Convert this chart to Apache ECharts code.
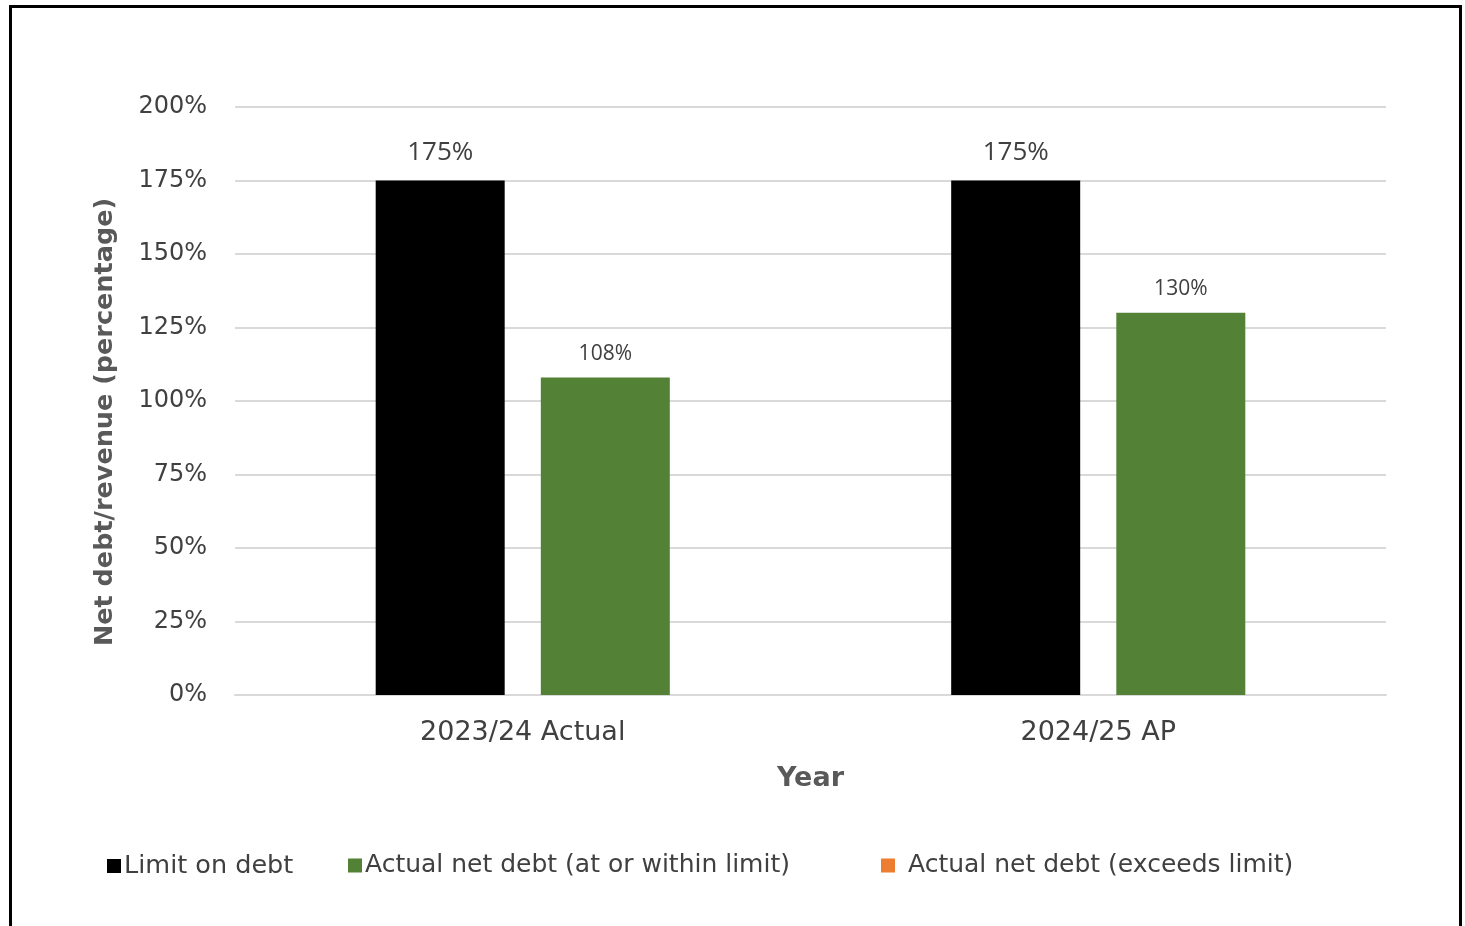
<!DOCTYPE html>
<html>
<head>
<meta charset="utf-8">
<script src="https://cdn.jsdelivr.net/npm/echarts@6/dist/echarts.min.js"></script>
<style>
html,body{margin:0;padding:0;background:#fff;}
#chart{width:1465px;height:926px;}
</style>
</head>
<body>
<div id="chart"></div>
<script>
const categories = ['2023/24 Actual', '2024/25 AP'];
const limitOnDebt = [175, 175];
const actualWithin = [108, 130];
const actualExceeds = [null, null];
const yTicks = [0, 25, 50, 75, 100, 125, 150, 175, 200];

const axisFont = '"DejaVu Sans", sans-serif';
const labelFont = '"Open Sans", Lato, sans-serif';

const chart = echarts.init(document.getElementById('chart'));
chart.setOption({
  animation: false,
  backgroundColor: '#ffffff',
  graphic: [{
    type: 'rect',
    shape: { x: 10.5, y: 6.5, width: 1450, height: 960 },
    style: { fill: 'none', stroke: '#000', lineWidth: 3 },
    silent: true
  }],
  grid: { left: 235, right: 79, top: 107, bottom: 231, containLabel: false },
  legend: [
    { data: ['Limit on debt'], left: 102, top: 848, itemWidth: 14, itemHeight: 14, icon: 'rect',
      textStyle: { fontFamily: axisFont, fontSize: 25.5, color: '#404040', padding: [0,0,0,-2] } },
    { data: ['Actual net debt (at or within limit)'], left: 343, top: 848, itemWidth: 14, itemHeight: 14, icon: 'rect',
      textStyle: { fontFamily: axisFont, fontSize: 25, color: '#404040', padding: [0,0,0,-2] } },
    { data: ['Actual net debt (exceeds limit)'], left: 876, top: 848, itemWidth: 14, itemHeight: 14, icon: 'rect',
      textStyle: { fontFamily: axisFont, fontSize: 25, color: '#404040', padding: [0,0,0,8] } }
  ],
  xAxis: {
    type: 'category',
    data: categories,
    name: 'Year',
    nameLocation: 'middle',
    nameGap: 70,
    nameTextStyle: { fontFamily: axisFont, fontSize: 27, fontWeight: 'bold', color: '#595959' },
    axisLine: { show: true, lineStyle: { color: '#d9d9d9', width: 2 } },
    axisTick: { show: false },
    axisLabel: { fontFamily: axisFont, fontSize: 27, color: '#404040', margin: 24 }
  },
  yAxis: {
    type: 'value',
    min: yTicks[0],
    max: yTicks[yTicks.length - 1],
    interval: 25,
    name: 'Net debt/revenue (percentage)',
    nameLocation: 'middle',
    nameRotate: 90,
    nameGap: 117,
    nameTextStyle: { fontFamily: axisFont, fontSize: 25.5, fontWeight: 'bold', color: '#595959',
      padding: [0, 42, 0, 0] },
    axisLine: { show: false },
    axisTick: { show: false },
    axisLabel: { fontFamily: axisFont, fontSize: 24, color: '#404040', margin: 28,
      formatter: v => v + '%' },
    splitLine: { lineStyle: { color: '#d9d9d9', width: 2 } }
  },
  series: [
    {
      name: 'Limit on debt',
      type: 'bar',
      data: limitOnDebt,
      barWidth: 129,
      barGap: '28%',
      itemStyle: { color: '#000000' },
      label: { show: true, position: 'top', distance: 15, formatter: p => p.value + '%',
        fontFamily: labelFont, fontSize: 26, color: '#404040' }
    },
    {
      name: 'Actual net debt (at or within limit)',
      type: 'bar',
      stack: 'actual',
      data: actualWithin,
      barWidth: 129,
      itemStyle: { color: '#538135' },
      label: { show: true, position: 'top', distance: 13, formatter: p => p.value + '%',
        fontFamily: labelFont, fontSize: 21, color: '#404040' }
    },
    {
      name: 'Actual net debt (exceeds limit)',
      type: 'bar',
      stack: 'actual',
      data: actualExceeds,
      barWidth: 129,
      itemStyle: { color: '#ed7d31' }
    }
  ]
});
</script>
</body>
</html>
